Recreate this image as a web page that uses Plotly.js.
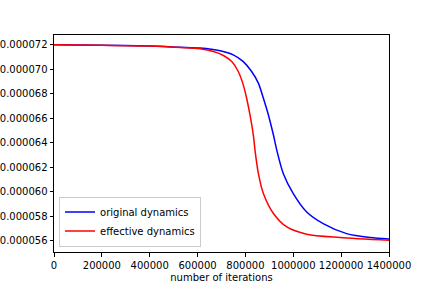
<!DOCTYPE html>
<html><head><meta charset="utf-8">
<script src="https://cdn.plot.ly/plotly-3.0.1.min.js"></script>
<style>html,body{margin:0;padding:0;background:#fff}#c{width:432px;height:288px}</style>
</head><body><div id="c"></div>
<script>
const origX = [0, 200000, 400000, 526000, 610000, 694000, 749000, 791000, 826000, 854000, 875000, 896000, 917000, 931000, 958000, 1000000, 1056000, 1125000, 1223000, 1321000, 1400000];
const origY = [0.0000720, 0.00007196, 0.0000719, 0.0000718, 0.00007173, 0.00007151, 0.00007118, 0.00007063, 0.00006982, 0.00006887, 0.00006764, 0.00006628, 0.00006464, 0.00006341, 0.00006151, 0.00005987, 0.00005837, 0.00005742, 0.0000566, 0.00005628, 0.00005616];
const effX = [0, 200000, 400000, 527000, 610000, 666000, 708000, 743000, 770000, 791000, 805000, 819000, 833000, 840000, 854000, 875000, 917000, 973000, 1056000, 1195000, 1400000];
const effY = [0.0000720, 0.00007196, 0.0000719, 0.00007178, 0.00007167, 0.00007145, 0.00007113, 0.00007063, 0.00006982, 0.00006873, 0.00006764, 0.00006628, 0.00006464, 0.00006341, 0.00006151, 0.00005987, 0.00005824, 0.00005714, 0.00005655, 0.00005628, 0.00005605];
const names = ["original dynamics", "effective dynamics"];
const xTicks = [0, 200000, 400000, 600000, 800000, 1000000, 1200000, 1400000];
const yTicks = [0.000056, 0.000058, 0.000060, 0.000062, 0.000064, 0.000066, 0.000068, 0.000070, 0.000072];

const traces = [
  {x: origX, y: origY, name: names[0], mode: 'lines', line: {color: 'blue', width: 1.5, shape: 'spline', smoothing: 0.8}},
  {x: effX, y: effY, name: names[1], mode: 'lines', line: {color: 'red', width: 1.5, shape: 'spline', smoothing: 0.8}}
];
const axisCommon = {showgrid: false, zeroline: false, showline: true, linecolor: '#000', linewidth: 1, mirror: true,
  ticks: 'outside', ticklen: 3.5, tickcolor: '#000', tickwidth: 1,
  tickfont: {family: 'DejaVu Sans', size: 10, color: '#000'}};
const layout = {
  width: 432, height: 288,
  margin: {l: 54, r: 43, t: 35, b: 36},
  paper_bgcolor: '#fff', plot_bgcolor: '#fff',
  showlegend: true,
  legend: {x: 0.015, y: 0.025, xanchor: 'left', yanchor: 'bottom', bordercolor: '#ccc', borderwidth: 1,
    bgcolor: 'rgba(255,255,255,0.8)', font: {family: 'DejaVu Sans', size: 10, color: '#000'},
    itemwidth: 30, tracegroupgap: 0},
  xaxis: Object.assign({}, axisCommon, {range: [0, 1400000], tickvals: xTicks, ticktext: xTicks.map(v => String(v)),
    title: {text: 'number of iterations', font: {family: 'DejaVu Sans', size: 10, color: '#000'}, standoff: 4}}),
  yaxis: Object.assign({}, axisCommon, {range: [0.0000551, 0.0000728], tickvals: yTicks, ticktext: yTicks.map(v => v.toFixed(6))})
};
Plotly.newPlot('c', traces, layout, {staticPlot: true});
</script></body></html>
